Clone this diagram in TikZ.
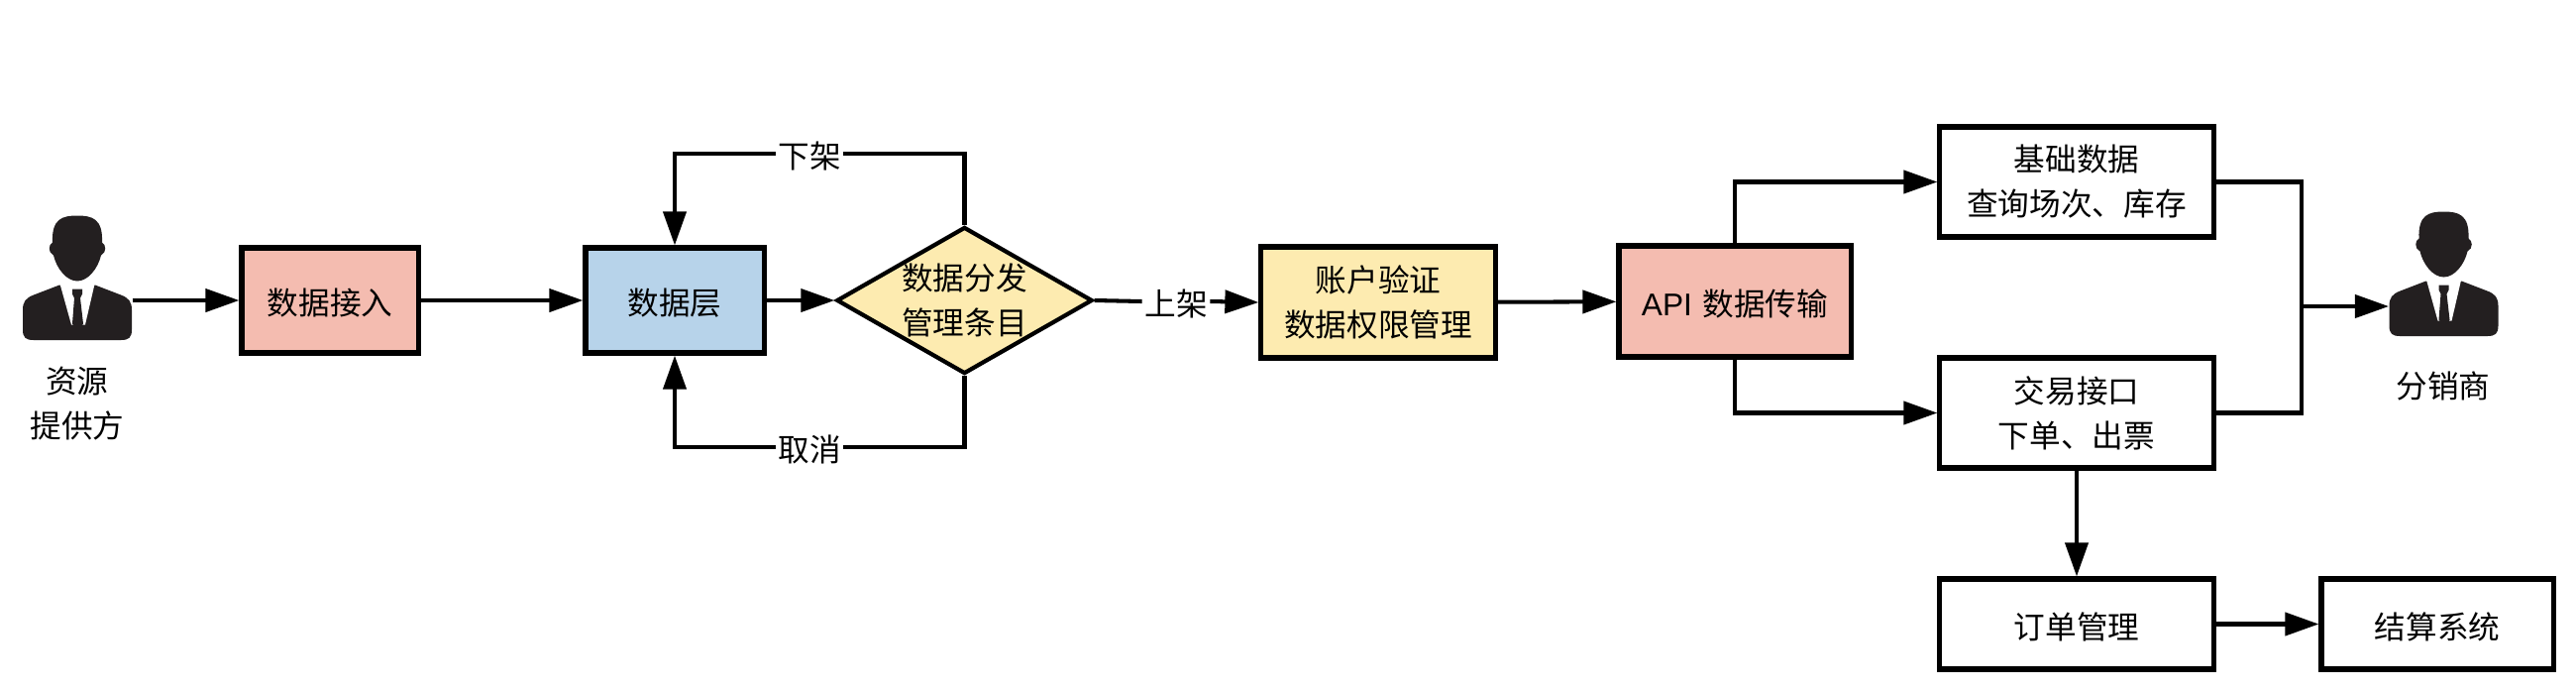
\documentclass[tikz,border=0pt]{standalone}
\usepackage{fontspec}
\setmainfont{Noto Sans CJK SC}
\newfontfamily\latinfont{Liberation Sans}
\usetikzlibrary{arrows.meta,shapes.geometric}
\definecolor{pinkfill}{HTML}{F4BCB0}
\definecolor{bluefill}{HTML}{B7D3EA}
\definecolor{yellowfill}{HTML}{FDEBB0}
\definecolor{personfill}{HTML}{231F20}
\tikzset{
	txt/.style={inner sep=0,align=center,font=\fontsize{9}{12.8}\selectfont,execute at begin node={\rule{0pt}{1em}}},
	box/.style={txt,draw=black,line width=1.45pt},
	linelabel/.style={txt,inner xsep=0.02cm},
	link/.style={line width=1.15pt},
	flow/.style={link,-{Triangle[length=3.4mm,width=2.3mm]}}
}
\newcommand{\drawperson}[2]{ % name, centre
	\node[minimum width=1.11cm,minimum height=1.25cm,inner sep=0,outer sep=0] (#1) at (#2) {};
	\begin{scope}[shift={(#1.center)}]
		\fill[personfill] (-25,-36) .. controls (-26,-60) and (-15,-63) .. (0,-63)
			.. controls (15,-63) and (26,-60) .. (25,-36)
			.. controls (29,-34) and (30,-26) .. (24,-23)
			.. controls (21,-10) and (11,3) .. (0,3)
			.. controls (-11,3) and (-21,-10) .. (-24,-23)
			.. controls (-30,-26) and (-29,-34) .. (-25,-36) -- cycle;
		\fill[personfill] (-18,7) -- (-44,17) .. controls (-52,20) and (-55,24) .. (-55,32)
			-- (-55,52) .. controls (-55,60) and (-52,62.5) .. (-44,62.5)
			-- (44,62.5) .. controls (52,62.5) and (55,60) .. (55,52)
			-- (55,32) .. controls (55,24) and (52,20) .. (44,17) -- (18,7) -- cycle;
		\fill[white] (-18,4) -- (-6,47) -- (8,47) -- (18,4) -- cycle;
		\fill[personfill] (-5,11) -- (5,11) -- (5,16) -- (3,20) -- (6,46) -- (1,54) -- (-5,46) -- (-3,20) -- (-5,16) -- cycle;
	\end{scope}
}
\begin{document}
\begin{tikzpicture}[x=0.01cm,y=-0.01cm]
	\useasboundingbox (0,0) rectangle (2600,696);
	\drawperson{srcperson}{78,280.5}
	\drawperson{distperson}{2466.5,276.5}
	\node[txt] (srclabel) at (78,407.5) {资源\\提供方};
	\node[txt] (distlabel) at (2466,387) {分销商};

	\node[box,fill=pinkfill,minimum width=1.78cm,minimum height=1.06cm] (inbox) at (333,303) {数据接入};
	\node[box,fill=bluefill,minimum width=1.80cm,minimum height=1.06cm] (dlayer) at (681,303) {数据层};
	\node[box,fill=yellowfill,diamond,aspect=1.74,line width=1.2pt,minimum width=2.58cm,minimum height=1.48cm] (dist) at (973.5,303) {数据分发\\管理条目};
	\node[box,fill=yellowfill,minimum width=2.36cm,minimum height=1.12cm] (acct) at (1391,305) {账户验证\\数据权限管理};
	\node[box,fill=pinkfill,minimum height=1.12cm,text width=2.34cm] (api) at (1751,304) {{\latinfont API} 数据传输};
	\node[box,minimum width=2.76cm,minimum height=1.11cm] (base) at (2096,183.5) {基础数据\\查询场次、库存};
	\node[box,minimum width=2.76cm,minimum height=1.11cm] (trade) at (2096,416.5) {交易接口\\下单、出票};
	\node[box,minimum width=2.76cm,minimum height=0.91cm] (order) at (2096,629.5) {订单管理};
	\node[box,minimum width=2.34cm,minimum height=0.91cm] (settle) at (2460,629.5) {结算系统};

	\node[linelabel] (offlabel) at (817,155) {下架};
	\node[linelabel] (cancellabel) at (817,451) {取消};
	\node[linelabel] (onlabel) at (1187,304) {上架};
	\coordinate (merge) at (2323,309);

	\draw[flow] (srcperson.east |- inbox.west) -- (inbox.west);
	\draw[flow] (inbox) -- (dlayer);
	\draw[flow] (dlayer) -- (dist);
	\draw[link] (dist.north) |- (offlabel.east);
	\draw[flow] (offlabel.west) -| (dlayer.north);
	\draw[link] (dist.south) |- (cancellabel.east);
	\draw[flow] (cancellabel.west) -| (dlayer.south);
	\draw[link] (dist.east) -- (onlabel.west);
	\draw[flow] (onlabel.east) -- (acct.west);
	\draw[flow] (acct) -- (api);
	\draw[flow] (api.north) |- (base.west);
	\draw[flow] (api.south) |- (trade.west);
	\draw[link] (base.east) -| (merge);
	\draw[link] (trade.east) -| (merge);
	\draw[flow] (merge) -- (merge -| distperson.west);
	\draw[flow] (trade) -- (order);
	\draw[flow] (order) -- (settle);
\end{tikzpicture}
\end{document}
